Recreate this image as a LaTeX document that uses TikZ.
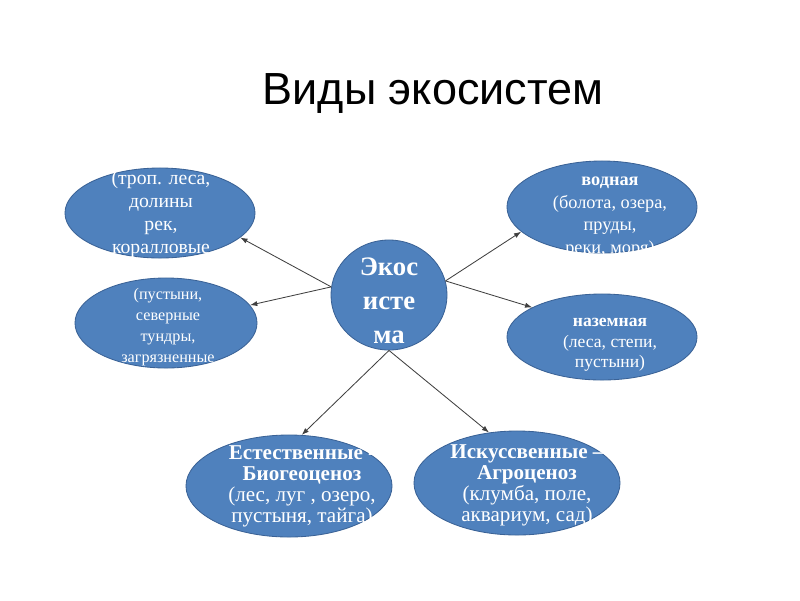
\documentclass[tikz,border=0pt]{standalone}
\usepackage{fontspec}
\setmainfont{Liberation Serif}
\newfontfamily\titlefont{Liberation Sans}
\usetikzlibrary{arrows.meta,shapes.geometric}
\definecolor{ovalblue}{HTML}{4F81BD}
\definecolor{ovalline}{HTML}{3A6296}
\definecolor{arrowgray}{HTML}{404040}

\begin{document}
\begin{tikzpicture}[
    x=0.025cm, y=-0.025cm,
    oval/.style={ellipse, draw=ovalline, line width=0.6pt, fill=ovalblue, inner sep=0pt},
    txt/.style={text=white, align=center, inner sep=0pt},
    arrow/.style={-{Latex[length=1.8mm, width=1.3mm]}, draw=arrowgray, line width=0.6pt}
]
\useasboundingbox (0,0) rectangle (800,600);
\node[anchor=base, inner sep=0pt, font={\titlefont\fontsize{32}{38}\selectfont}] (title) at (433,104) {Виды экосистем};

\node[oval, minimum width=4.75cm, minimum height=2.25cm] (tl) at (160,213) {};
\node[oval, minimum width=4.55cm, minimum height=2.25cm] (ml) at (166,323) {};
\node[oval, minimum width=4.75cm, minimum height=2.3cm] (tr) at (602,207) {};
\node[oval, minimum width=4.75cm, minimum height=2.15cm] (mr) at (602,337) {};
\node[oval, minimum width=2.9cm, minimum height=2.75cm] (eco) at (389,295) {};
\node[oval, minimum width=5.15cm, minimum height=2.55cm] (bl) at (289,486) {};
\node[oval, minimum width=5.15cm, minimum height=2.6cm] (br) at (517,483) {};

\node[txt, font={\fontsize{14}{16.4}\selectfont}] (tltext) at (161,214) {(троп. леса,\\долины\\рек,\\коралловые};
\node[txt, font={\fontsize{11.5}{15}\selectfont}] (mltext) at (168,327) {(пустыни,\\северные\\тундры,\\загрязненные};
\node[txt, font={\fontsize{13}{16}\selectfont}] (trtext) at (610,217) {\textbf{водная}\\(болота, озера,\\пруды,\\реки, моря)};
\node[txt, font={\fontsize{12.5}{14.5}\selectfont}] (mrtext) at (610,345) {\textbf{наземная}\\(леса, степи,\\пустыни)};
\node[txt, font={\bfseries\fontsize{19}{24}\selectfont}] (ecotext) at (389,301) {Экос\\исте\\ма};
\node[txt, font={\fontsize{15}{15}\selectfont}] (bltext) at (302,486) {\textbf{Естественные -}\\\textbf{Биогеоценоз}\\(лес, луг , озеро,\\пустыня, тайга)};
\node[txt, font={\fontsize{15}{15}\selectfont}] (brtext) at (527,485) {\textbf{Искуссвенные –}\\\textbf{Агроценоз}\\(клумба, поле,\\аквариум, сад)};

\draw[arrow] (eco.172) -- (tl.-17);
\draw[arrow] (eco.172) -- (ml.12);
\draw[arrow] (eco.14) -- (tr.197);
\draw[arrow] (eco.14) -- (mr.157);
\draw[arrow] (eco.south) -- (bl.76);
\draw[arrow] (eco.south) -- (br.119);
\end{tikzpicture}
\end{document}
